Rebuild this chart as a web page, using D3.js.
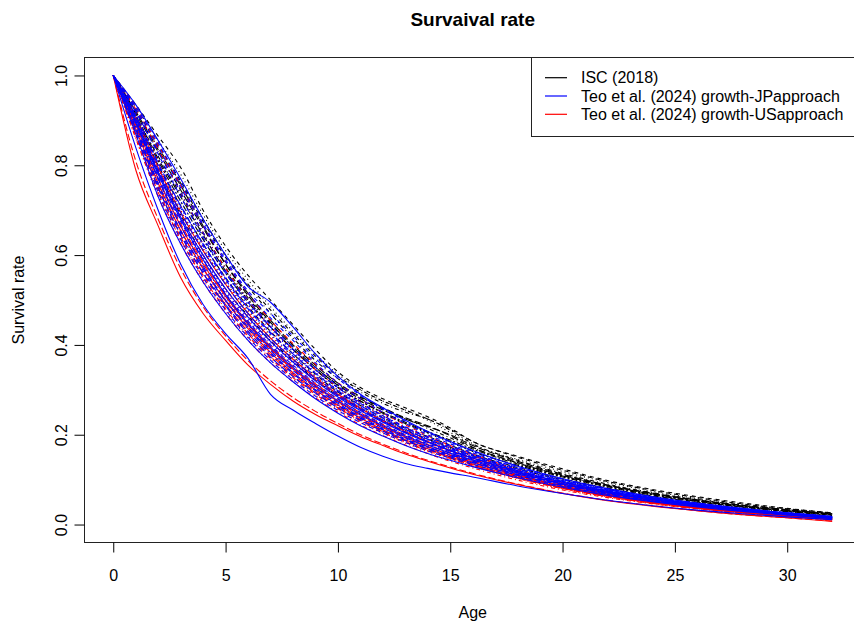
<!DOCTYPE html>
<html>
<head>
<meta charset="utf-8">
<script src="https://cdn.jsdelivr.net/npm/d3@7"></script>
<style>
  body { margin: 0; background: #fff; }
  text { font-family: "Liberation Sans", Arial, sans-serif; }
</style>
</head>
<body>
<div id="chart"></div>
<script>
var ages = [0,1,2,3,4,5,6,7,8,9,10,11,12,13,14,15,16,18,20,22,24,26,28,30,32];

// ISC (2018)
var iscCurves = [
  [1,.935,.865,.795,.70,.62,.555,.50,.445,.39,.34,.305,.28,.26,.24,.215,.185,.152,.124,.098,.078,.062,.048,.036,.026],
  [1,.93,.855,.78,.69,.61,.545,.485,.43,.38,.335,.30,.275,.255,.232,.205,.178,.145,.118,.094,.074,.058,.045,.034,.025],
  [1,.92,.84,.76,.675,.595,.53,.47,.415,.365,.325,.295,.27,.25,.235,.21,.18,.143,.114,.09,.071,.056,.043,.033,.024],
  [1,.915,.83,.745,.66,.58,.515,.455,.40,.355,.315,.285,.26,.238,.22,.198,.172,.138,.11,.087,.069,.054,.042,.032,.023],
  [1,.91,.815,.73,.645,.565,.50,.44,.39,.345,.305,.275,.248,.225,.205,.185,.163,.132,.106,.084,.066,.052,.04,.03,.022],
  [1,.905,.80,.71,.625,.55,.485,.43,.38,.335,.295,.265,.238,.215,.196,.177,.157,.127,.102,.081,.064,.05,.039,.029,.021],
  [1,.90,.79,.695,.61,.535,.47,.415,.37,.325,.29,.26,.235,.212,.19,.17,.152,.123,.099,.079,.062,.049,.038,.028,.02],
  [1,.895,.785,.69,.60,.525,.465,.41,.365,.322,.287,.258,.232,.21,.19,.172,.154,.124,.10,.08,.063,.05,.039,.029,.021],
  [1,.92,.835,.755,.665,.58,.51,.45,.395,.35,.31,.28,.255,.235,.218,.20,.176,.141,.112,.088,.07,.055,.043,.033,.024],
  [1,.905,.81,.72,.635,.56,.495,.44,.39,.345,.305,.275,.25,.228,.207,.188,.168,.135,.108,.086,.068,.053,.041,.031,.023],
  [1,.925,.845,.765,.68,.60,.535,.478,.425,.375,.33,.30,.275,.255,.235,.212,.185,.15,.121,.096,.076,.06,.046,.035,.026],
  [1,.90,.795,.70,.615,.54,.478,.422,.375,.332,.296,.268,.245,.224,.203,.183,.163,.131,.105,.083,.066,.052,.04,.03,.022],
  [1,.91,.82,.735,.65,.572,.505,.447,.396,.35,.312,.283,.258,.236,.214,.193,.171,.137,.109,.086,.068,.053,.041,.031,.023]
];

// Teo et al. (2024) growth-USapproach
var usCurves = [
  [1,.79,.665,.55,.47,.41,.355,.312,.275,.245,.22,.196,.176,.157,.141,.126,.112,.089,.069,.053,.041,.031,.022,.015,.007],
  [1,.87,.755,.655,.57,.50,.44,.39,.345,.306,.272,.242,.216,.193,.172,.154,.138,.108,.084,.065,.05,.038,.028,.02,.012],
  [1,.91,.80,.70,.615,.54,.475,.42,.372,.33,.293,.261,.233,.209,.187,.167,.149,.117,.091,.07,.054,.041,.03,.021,.013],
  [1,.86,.73,.625,.54,.47,.41,.36,.318,.282,.25,.222,.198,.177,.158,.141,.126,.099,.077,.06,.046,.035,.026,.018,.011],
  [1,.875,.75,.645,.56,.49,.43,.378,.334,.296,.263,.234,.209,.187,.167,.149,.133,.104,.081,.063,.048,.036,.027,.019,.012],
  [1,.89,.77,.665,.58,.508,.445,.392,.347,.308,.274,.244,.218,.195,.174,.155,.139,.109,.085,.066,.05,.038,.028,.02,.012],
  [1,.90,.785,.685,.60,.525,.462,.408,.362,.322,.287,.256,.229,.205,.183,.163,.146,.114,.089,.069,.053,.04,.03,.021,.013],
  [1,.915,.81,.71,.625,.55,.485,.43,.38,.338,.30,.268,.24,.215,.192,.171,.152,.119,.092,.071,.055,.042,.031,.022,.014],
  [1,.925,.835,.74,.65,.57,.50,.44,.39,.345,.306,.272,.243,.217,.194,.173,.154,.12,.093,.072,.055,.042,.031,.022,.014],
  [1,.885,.77,.67,.585,.512,.45,.397,.352,.313,.279,.249,.222,.199,.178,.159,.142,.111,.086,.067,.051,.039,.028,.02,.012],
  [1,.88,.76,.655,.57,.498,.436,.383,.338,.30,.266,.237,.211,.189,.169,.151,.135,.106,.082,.064,.049,.037,.027,.019,.011],
  [1,.93,.845,.755,.665,.585,.515,.455,.403,.357,.316,.28,.249,.222,.198,.176,.157,.122,.094,.072,.055,.042,.031,.022,.014],
  [1,.895,.78,.68,.595,.52,.455,.40,.355,.315,.28,.25,.224,.20,.179,.16,.143,.112,.087,.068,.052,.04,.029,.021,.013],
  [1,.865,.74,.635,.55,.48,.42,.37,.327,.29,.258,.23,.205,.183,.164,.147,.131,.103,.08,.062,.047,.036,.026,.018,.011],
  [1,.81,.68,.57,.485,.42,.365,.32,.283,.252,.225,.20,.179,.16,.143,.128,.114,.09,.07,.054,.042,.031,.022,.015,.008],
  [1,.905,.795,.695,.61,.535,.47,.415,.368,.327,.29,.259,.231,.207,.185,.165,.148,.116,.09,.07,.054,.041,.03,.021,.013],
  [1,.87,.745,.64,.555,.485,.425,.374,.33,.293,.26,.232,.207,.185,.165,.148,.132,.104,.081,.063,.048,.036,.026,.018,.011],
  [1,.86,.735,.63,.545,.475,.416,.366,.323,.287,.255,.227,.203,.181,.162,.145,.13,.102,.079,.061,.047,.035,.026,.018,.01]
];

// Teo et al. (2024) growth-JPapproach
var jpCurves = [
  [1,.935,.855,.77,.68,.60,.53,.495,.44,.38,.33,.29,.26,.232,.207,.185,.165,.13,.102,.08,.062,.048,.036,.026,.018],
  [1,.925,.84,.75,.665,.585,.515,.46,.41,.36,.315,.28,.25,.225,.20,.18,.16,.127,.10,.078,.06,.046,.035,.025,.017],
  [1,.915,.815,.72,.635,.56,.49,.435,.385,.34,.30,.268,.24,.215,.193,.173,.155,.123,.097,.076,.059,.045,.034,.025,.017],
  [1,.91,.80,.705,.62,.545,.48,.425,.375,.33,.292,.26,.233,.21,.188,.168,.151,.12,.095,.074,.058,.045,.034,.025,.016],
  [1,.905,.79,.695,.61,.535,.47,.415,.368,.325,.288,.257,.23,.206,.185,.166,.149,.118,.094,.074,.058,.044,.033,.024,.016],
  [1,.90,.785,.685,.60,.525,.462,.408,.362,.32,.284,.254,.228,.204,.183,.164,.148,.118,.094,.074,.058,.045,.034,.025,.017],
  [1,.895,.775,.675,.59,.515,.453,.40,.355,.315,.28,.25,.224,.20,.18,.162,.146,.116,.092,.072,.056,.043,.033,.024,.016],
  [1,.89,.765,.665,.58,.505,.445,.39,.346,.307,.273,.244,.219,.196,.176,.158,.143,.114,.09,.071,.055,.042,.032,.023,.015],
  [1,.885,.76,.655,.57,.497,.436,.383,.338,.30,.267,.238,.213,.191,.172,.155,.14,.112,.089,.07,.054,.042,.031,.023,.015],
  [1,.88,.75,.645,.56,.487,.425,.373,.33,.293,.26,.232,.208,.187,.168,.151,.137,.11,.087,.068,.053,.041,.031,.022,.014],
  [1,.84,.70,.58,.49,.425,.37,.29,.255,.225,.197,.172,.152,.136,.125,.115,.106,.086,.069,.054,.042,.032,.024,.017,.011],
  [1,.875,.74,.635,.55,.478,.417,.366,.323,.286,.254,.227,.204,.183,.164,.148,.134,.107,.085,.067,.052,.04,.03,.022,.014],
  [1,.905,.80,.71,.625,.55,.49,.44,.385,.335,.295,.262,.235,.212,.19,.17,.153,.121,.096,.075,.058,.045,.034,.025,.017],
  [1,.92,.83,.74,.65,.565,.50,.445,.395,.35,.308,.272,.243,.218,.196,.176,.158,.125,.098,.077,.06,.046,.035,.026,.018],
  [1,.895,.77,.665,.575,.50,.44,.387,.343,.304,.27,.24,.215,.193,.173,.156,.141,.113,.09,.071,.055,.043,.032,.023,.015],
  [1,.87,.73,.625,.54,.47,.41,.36,.318,.28,.248,.22,.197,.176,.158,.143,.129,.104,.083,.065,.051,.039,.029,.021,.013],
  [1,.93,.85,.76,.67,.59,.52,.47,.42,.37,.325,.288,.257,.23,.205,.184,.164,.13,.102,.08,.062,.048,.036,.026,.018],
  [1,.90,.78,.68,.595,.52,.458,.405,.36,.32,.285,.255,.229,.205,.184,.165,.149,.119,.095,.075,.059,.046,.035,.026,.018],
  [1,.885,.755,.65,.565,.49,.43,.38,.336,.298,.265,.236,.211,.189,.17,.153,.138,.11,.088,.069,.054,.041,.031,.022,.014],
  [1,.91,.805,.71,.625,.548,.482,.428,.38,.337,.298,.265,.237,.212,.19,.17,.153,.121,.096,.075,.058,.045,.034,.025,.016],
  [1,.895,.78,.68,.59,.512,.448,.395,.35,.31,.276,.246,.22,.197,.177,.159,.144,.115,.091,.072,.056,.043,.033,.024,.016],
  [1,.92,.825,.73,.64,.56,.495,.44,.39,.345,.305,.27,.242,.216,.194,.174,.156,.124,.098,.077,.06,.046,.035,.025,.017]
];

var xTicks = [0, 5, 10, 15, 20, 25, 30];
var yTicks = [0, 0.2, 0.4, 0.6, 0.8, 1.0];
var legendLabels = ["ISC (2018)", "Teo et al. (2024) growth-JPapproach", "Teo et al. (2024) growth-USapproach"];
var legendColors = ["black", "blue", "red"];

const width = 854;
const height = 626;
// plot region (the right edge runs past the picture, like the original)
const pLeft = 84.5, pRight = 860.9, pTop = 57.5, pBottom = 542.5;

// R style line types
var dashes = [null, "4,4", "1,3", "1,3,4,3", "7,3", "2,2,6,2"];

var svg = d3.select("#chart")
  .append("svg")
  .attr("width", width)
  .attr("height", height);

svg.append("rect")
  .attr("width", width)
  .attr("height", height)
  .attr("fill", "#ffffff");

var x = d3.scaleLinear().domain([-1.28, 33.28]).range([pLeft, pRight]);
var y = d3.scaleLinear().domain([-0.04, 1.04]).range([pBottom, pTop]);

var line = d3.line()
  .x(function(d, i) { return x(ages[i]); })
  .y(function(d) { return y(d); })
  .curve(d3.curveMonotoneX);

// curves: ISC first, then US, then JP on top
function drawGroup(curves, color, ltys, cls) {
  svg.selectAll("." + cls)
    .data(curves)
    .enter().append("path")
    .attr("class", cls)
    .attr("d", line)
    .attr("fill", "none")
    .attr("stroke", color)
    .attr("stroke-width", 1.1)
    .attr("stroke-dasharray", function(d, i) { return dashes[ltys[i % ltys.length]]; });
}
drawGroup(iscCurves, "black", [1, 2, 3, 4, 5], "isc");
drawGroup(usCurves, "red", [0, 1, 2, 3, 4], "us");
drawGroup(jpCurves, "blue", [0, 1, 2, 3, 4], "jp");

// plot box
svg.append("rect")
  .attr("x", pLeft)
  .attr("y", pTop)
  .attr("width", pRight - pLeft)
  .attr("height", pBottom - pTop)
  .attr("fill", "none")
  .attr("stroke", "#222")
  .attr("stroke-width", 1);

// x axis
var xAxis = d3.axisBottom(x).tickValues(xTicks).tickSize(10).tickPadding(17);
var gx = svg.append("g").attr("transform", "translate(0," + pBottom + ")").call(xAxis);
gx.select(".domain").remove();
gx.selectAll("text").attr("font-size", 16).attr("fill", "#000");

// y axis, labels rotated like R
var yAxis = d3.axisLeft(y).tickValues(yTicks).tickSize(10).tickFormat(d3.format(".1f"));
var gy = svg.append("g").attr("transform", "translate(" + pLeft + ",0)").call(yAxis);
gy.select(".domain").remove();
gy.selectAll("text")
  .attr("font-size", 16)
  .attr("fill", "#000")
  .attr("x", 0)
  .attr("y", 0)
  .attr("dy", "0.35em")
  .attr("text-anchor", "middle")
  .attr("transform", "translate(-23,0) rotate(-90)");

// titles
svg.append("text")
  .attr("x", (pLeft + pRight) / 2)
  .attr("y", 26)
  .attr("text-anchor", "middle")
  .attr("font-size", 19)
  .attr("font-weight", "bold")
  .text("Survaival rate");

svg.append("text")
  .attr("x", (pLeft + pRight) / 2)
  .attr("y", 618)
  .attr("text-anchor", "middle")
  .attr("font-size", 16)
  .text("Age");

svg.append("text")
  .attr("transform", "translate(24," + (pTop + pBottom) / 2 + ") rotate(-90)")
  .attr("text-anchor", "middle")
  .attr("font-size", 16)
  .text("Survival rate");

// legend
var lg = svg.append("g");
lg.append("rect")
  .attr("x", 531.5)
  .attr("y", pTop)
  .attr("width", pRight - 531.5)
  .attr("height", 136.5 - pTop)
  .attr("fill", "#fff")
  .attr("stroke", "#222")
  .attr("stroke-width", 1);

lg.selectAll(".item")
  .data(legendLabels)
  .enter().append("g")
  .attr("class", "item")
  .each(function(d, i) {
    var g = d3.select(this);
    var yy = 77.7 + i * 18.3;
    g.append("line")
      .attr("x1", 545).attr("x2", 567)
      .attr("y1", yy).attr("y2", yy)
      .attr("stroke", legendColors[i])
      .attr("stroke-width", 1.2);
    g.append("text")
      .attr("x", 581)
      .attr("y", yy)
      .attr("dy", "0.35em")
      .attr("font-size", 16)
      .text(d);
  });
</script>
</body>
</html>
